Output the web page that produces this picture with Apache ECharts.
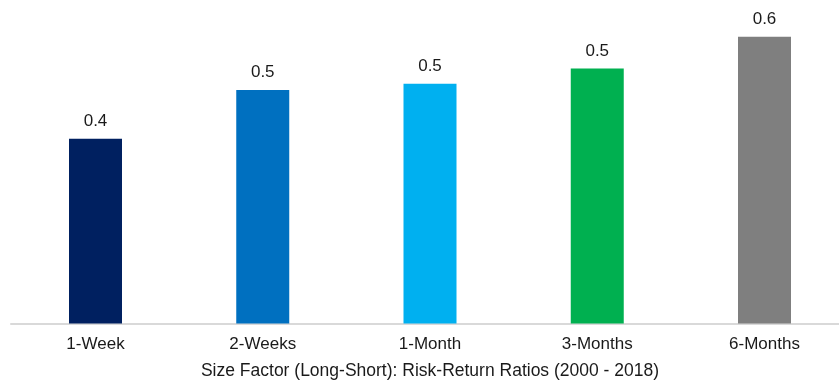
<!DOCTYPE html>
<html>
<head>
<meta charset="utf-8">
<script src="https://cdn.jsdelivr.net/npm/echarts@6/dist/echarts.min.js"></script>
<style>
  html, body { margin: 0; padding: 0; background: #fff; }
  #chart { width: 839px; height: 380px; }
</style>
</head>
<body>
<div id="chart"></div>
<script>
// Horizons and risk-return ratios of the size factor
const categories = ['1-Week', '2-Weeks', '1-Month', '3-Months', '6-Months'];
const ratios = [0.388, 0.490, 0.503, 0.535, 0.602];
const barColors = ['#002060', '#0070C0', '#00B0F0', '#00B050', '#7F7F7F'];
const chartTitle = 'Size Factor (Long-Short): Risk-Return Ratios (2000 - 2018)';

const font = 'Liberation Sans, Arial, sans-serif';
const textColor = '#1A1A1A';
const chart = echarts.init(document.getElementById('chart'));
chart.setOption({
  animation: false,
  textStyle: { fontFamily: font },
  grid: [
    // bars: category centres span the inner plot
    { left: 95.5, top: 0, width: 669, height: 323.5, containLabel: false, outerBoundsMode: 'none' },
    // full-width baseline
    { left: 11, top: 0, right: 0, height: 323.5, containLabel: false, outerBoundsMode: 'none' }
  ],
  xAxis: [
    {
      type: 'category',
      gridIndex: 0,
      data: categories,
      boundaryGap: false,
      axisLine: { show: false },
      axisTick: { show: false },
      axisLabel: { color: textColor, fontSize: 17, margin: 12 },
      name: chartTitle,
      nameLocation: 'middle',
      nameGap: 39,
      nameTextStyle: { color: textColor, fontSize: 17.5, fontFamily: font }
    },
    {
      type: 'value',
      gridIndex: 1,
      min: 0,
      max: 1,
      axisLine: { show: true, lineStyle: { color: '#D9D9D9', width: 2 } },
      axisTick: { show: false },
      axisLabel: { show: false },
      splitLine: { show: false }
    }
  ],
  yAxis: [
    { type: 'value', gridIndex: 0, min: 0, max: 0.679, show: false, splitLine: { show: false } },
    { type: 'value', gridIndex: 1, min: 0, max: 1, show: false, splitLine: { show: false } }
  ],
  series: [{
    type: 'bar',
    xAxisIndex: 0,
    yAxisIndex: 0,
    clip: false,
    barWidth: 53,
    data: ratios.map((v, i) => ({ value: v, itemStyle: { color: barColors[i] } })),
    label: {
      show: true,
      position: 'top',
      distance: 9,
      color: textColor,
      fontSize: 17,
      formatter: p => p.value.toFixed(1)
    }
  }]
});
</script>
</body>
</html>
